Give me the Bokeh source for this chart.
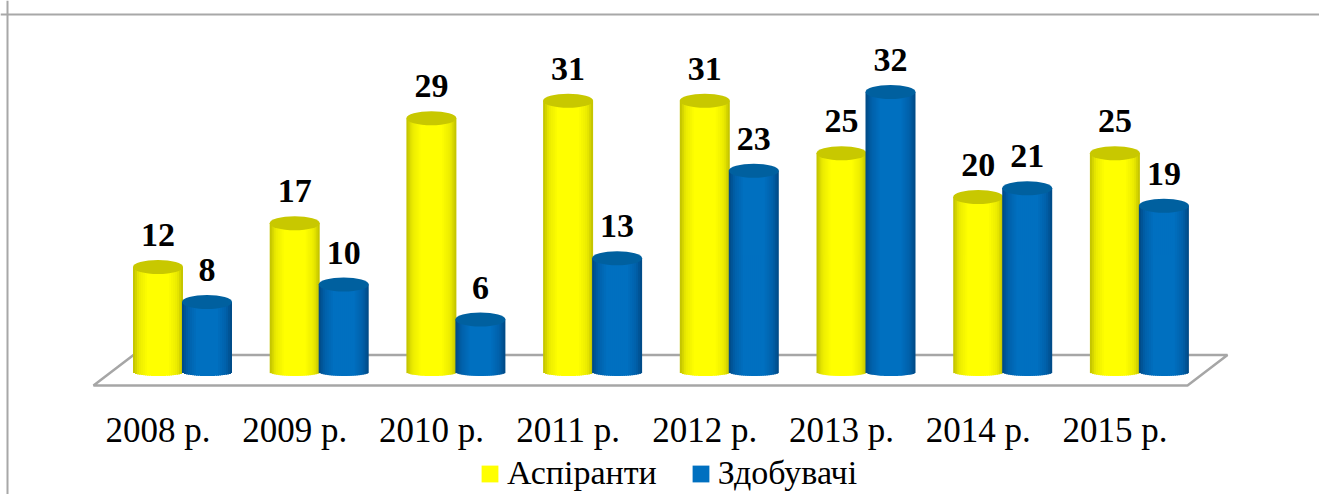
from bokeh.plotting import figure
from bokeh.models import Legend, LegendItem, Span, FixedTicker
from bokeh.core.properties import value
from bokeh.embed import file_html
from bokeh.resources import INLINE
import numpy as np

years = ["2008 р.", "2009 р.", "2010 р.", "2011 р.", "2012 р.", "2013 р.", "2014 р.", "2015 р."]
aspiranty = [12, 17, 29, 31, 31, 25, 20, 25]
zdobuvachi = [8, 10, 6, 13, 23, 32, 21, 19]

PX_X = 136.7   # px per category
PX_Y = 8.75    # px per value unit
W, H = 1319, 494
OX, OY = 157.5, 371.5  # first column's centre / baseline on the page
x0 = -OX / PX_X
y1 = OY / PX_Y
y0 = y1 - H / PX_Y

p = figure(width=W, height=H, output_backend="svg", toolbar_location=None,
           x_range=(x0, x0 + W / PX_X), y_range=(y0, y1),
           y_axis_location=None, min_border=0,
           outline_line_color=None, background_fill_color="white", border_fill_color="white")
p.grid.visible = False

def page_x(v): return (v - OX) / PX_X
def page_y(v): return (OY - v) / PX_Y

# frame of the chart area
p.add_layout(Span(location=page_y(14), dimension="width", line_color="#a8a8a8", line_width=2))
p.add_layout(Span(location=page_x(7), dimension="height", line_color="#a8a8a8", line_width=2))

# floor
fx = [page_x(v) for v in (93, 1187, 1227, 133, 93)]
fy = [page_y(v) for v in (385, 385, 354.5, 354.5, 385)]
p.patch(fx, fy, fill_color="white", line_color="#a6a6a6", line_width=2.5)

def cylinders(vals, offset_px, stops, top_color):
    half = 25.0
    n = 25
    edges = np.linspace(-half, half, n + 1)
    mids = (edges[:-1] + edges[1:]) / 2
    t = (mids + half) / (2 * half)
    rgb = np.array([np.interp(t, stops[0], [c[k] for c in stops[1]]) for k in range(3)]).T
    cols = ["#%02x%02x%02x" % tuple(int(round(c)) for c in row) for row in rgb]
    rights = edges[1:] + 1.0
    rights[-1] = half
    for i, v in enumerate(vals):
        cx = i + offset_px / PX_X
        bulge = 4.0 * np.sqrt(np.clip(1 - (mids / half) ** 2, 0, 1))
        p.quad(left=cx + edges[:-1] / PX_X, right=cx + rights / PX_X,
               top=[v] * n, bottom=-bulge / PX_Y, fill_color=cols, line_color=None)
        p.ellipse(x=[cx], y=[v], width=2 * half, height=14, width_units="screen",
                  height_units="screen", fill_color=top_color, line_color=None)

Y = (255, 255, 0); YD = (190, 190, 0)
B = (0, 112, 192); BD = (0, 72, 130)
pos = [0, 0.12, 0.3, 0.7, 0.88, 1]
cylinders(aspiranty, 0, (pos, [YD, (235, 235, 0), Y, Y, (235, 235, 0), YD]), "#c8c800")
cylinders(zdobuvachi, 49, (pos, [BD, (0, 96, 170), B, B, (0, 96, 170), BD]), "#00609f")

# value labels
label_kw = dict(text_font=value("Liberation Serif"), text_font_style="bold", text_font_size="34px",
                text_color="black", text_align="center", text_baseline="alphabetic", y_offset=-32)
xs_a = list(range(len(years)))
p.text(x=xs_a, y=aspiranty, text=[str(v) for v in aspiranty], **label_kw)
xs_b = [i + 49 / PX_X for i in xs_a]
p.text(x=xs_b, y=zdobuvachi, text=[str(v) for v in zdobuvachi], **label_kw)

# category axis, drawn inside the frame
ax = p.xaxis[0]
ax.fixed_location = page_y(400)
ax.ticker = FixedTicker(ticks=xs_a)
ax.major_label_overrides = {i: y for i, y in enumerate(years)}
ax.axis_line_color = None
ax.major_tick_line_color = None
ax.minor_tick_line_color = None
ax.major_label_standoff = 4
ax.major_label_text_font = "Liberation Serif"
ax.major_label_text_font_size = "35px"
ax.major_label_text_color = "black"

# legend
nan = float("nan")
ra = p.quad(left=[nan], right=[nan], top=[nan], bottom=[nan], fill_color="#ffff00", line_color=None)
rb = p.quad(left=[nan], right=[nan], top=[nan], bottom=[nan], fill_color="#0070c0", line_color=None)
lg = Legend(items=[LegendItem(label="Аспіранти", renderers=[ra]), LegendItem(label="Здобувачі", renderers=[rb])],
            orientation="horizontal", location=(479, 2), background_fill_alpha=0, border_line_color=None,
            padding=0, margin=0, spacing=33, glyph_width=21, glyph_height=21, label_standoff=7,
            label_text_font="Liberation Serif", label_text_font_size="34px", label_text_color="black")
p.add_layout(lg)

open("out.html", "w").write(file_html(p, INLINE))
